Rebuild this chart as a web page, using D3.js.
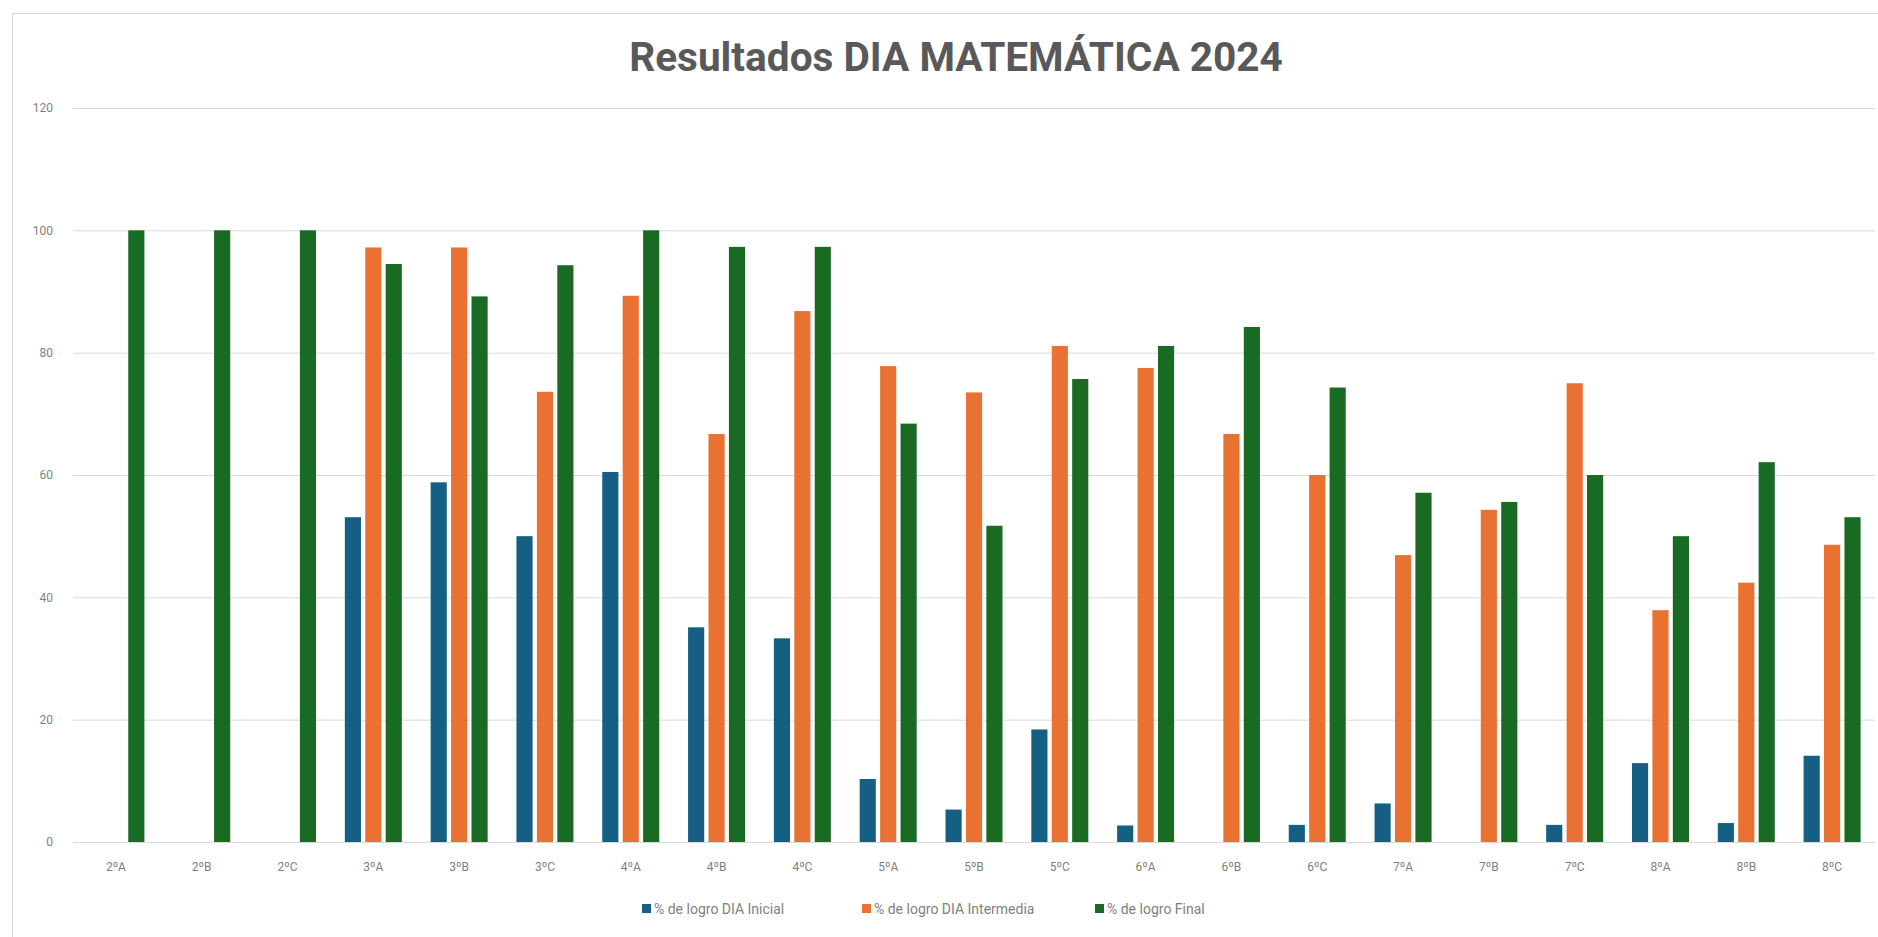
<!DOCTYPE html>
<html>
<head>
<meta charset="utf-8">
<script src="https://cdn.jsdelivr.net/npm/d3@7"></script>
<style>
  body { margin: 0; background: #fff; overflow: hidden; }
  text { font-family: Roboto, "Liberation Sans", sans-serif; }
  .grid line { stroke: #d9d9d9; stroke-width: 1; }
  .tick text { fill: #7f7f7f; font-size: 12px; }
</style>
</head>
<body>
<div id="chart"></div>
<script>
// data
var cursos = ["2ºA","2ºB","2ºC","3ºA","3ºB","3ºC","4ºA","4ºB","4ºC","5ºA","5ºB","5ºC","6ºA","6ºB","6ºC","7ºA","7ºB","7ºC","8ºA","8ºB","8ºC"];
var inicial    = [0, 0, 0, 53.1, 58.8, 50, 60.5, 35.1, 33.3, 10.3, 5.3, 18.4, 2.7, 0, 2.8, 6.3, 0, 2.8, 12.9, 3.1, 14.1];
var intermedia = [0, 0, 0, 97.2, 97.2, 73.6, 89.3, 66.7, 86.8, 77.8, 73.5, 81.1, 77.5, 66.7, 60, 46.9, 54.3, 75, 37.9, 42.4, 48.6];
var final      = [100, 100, 100, 94.5, 89.2, 94.3, 100, 97.3, 97.3, 68.4, 51.7, 75.7, 81.1, 84.2, 74.3, 57.1, 55.6, 60, 50, 62.1, 53.1];
var seriesNames = ["% de logro DIA Inicial", "% de logro DIA Intermedia", "% de logro Final"];
var colors = ["#156082", "#E97132", "#196B24"];
var yTicks = [0, 20, 40, 60, 80, 100, 120];

var W = 1878, H = 937;
var margin = {top: 108, right: 3, bottom: 95, left: 73}
  , width = W - margin.left - margin.right
  , height = H - margin.top - margin.bottom;

var series = [inicial, intermedia, final];
var rows = cursos.map(function(c, i) {
  return {curso: c, vals: series.map(function(s, k) { return {k: k, v: s[i]}; })};
});

var svg = d3.select("#chart").append("svg")
    .attr("width", W)
    .attr("height", H);

// chart area border
svg.append("rect")
    .attr("x", 12.5).attr("y", 13.5)
    .attr("width", W + 20).attr("height", H + 20)
    .attr("fill", "#fff")
    .attr("stroke", "#d9d9d9");

var title = svg.append("text")
    .attr("class", "title")
    .attr("x", 956)
    .attr("y", 71)
    .attr("text-anchor", "middle")
    .style("font-weight", "bold")
    .style("font-size", "32px")
    .style("fill", "#595959")
    .text("Resultados DIA MATEMÁTICA 2024");
// scale title so it spans about 654px like in the picture
var tw = title.node().getComputedTextLength();
title.style("font-size", (32 * 654 / tw) + "px");

var g = svg.append("g")
    .attr("transform", "translate(" + margin.left + "," + margin.top + ")");

var xScale = d3.scaleBand()
    .domain(cursos)
    .range([0, width]);

var xInner = d3.scaleBand()
    .domain([0, 1, 2])
    .range([-28.5, 28.5])
    .paddingInner(0.21);

var yScale = d3.scaleLinear()
    .domain([0, 120])
    .range([height, 0]);

// gridlines + y labels
g.append("g")
    .attr("class", "grid")
    .call(d3.axisLeft(yScale).tickValues(yTicks).tickSize(-width).tickPadding(20))
    .call(function(a) { a.select(".domain").remove(); });

// x labels
g.append("g")
    .attr("transform", "translate(0," + height + ")")
    .call(d3.axisBottom(xScale).tickSize(0).tickPadding(20))
    .call(function(a) { a.select(".domain").remove(); });

// bars
var groups = g.selectAll(".grp")
    .data(rows)
    .enter().append("g")
    .attr("class", "grp")
    .attr("transform", function(d) { return "translate(" + (xScale(d.curso) + xScale.bandwidth() / 2) + ",0)"; });

groups.selectAll("rect")
    .data(function(d) { return d.vals; })
    .enter().append("rect")
    .attr("x", function(d) { return xInner(d.k); })
    .attr("width", xInner.bandwidth())
    .attr("y", function(d) { return yScale(d.v); })
    .attr("height", function(d) { return height - yScale(d.v); })
    .attr("fill", function(d) { return colors[d.k]; });

// legend
var legX = [642, 862, 1095];
var leg = svg.append("g").selectAll("g")
    .data(seriesNames)
    .enter().append("g")
    .attr("transform", function(d, i) { return "translate(" + legX[i] + ",909)"; });

leg.append("rect")
    .attr("x", 0).attr("y", -5)
    .attr("width", 9).attr("height", 9)
    .attr("fill", function(d, i) { return colors[i]; });

leg.append("text")
    .attr("x", 12)
    .attr("dy", "0.35em")
    .style("font-size", "14px")
    .style("fill", "#7f7f7f")
    .text(function(d) { return d; });
</script>
</body>
</html>
